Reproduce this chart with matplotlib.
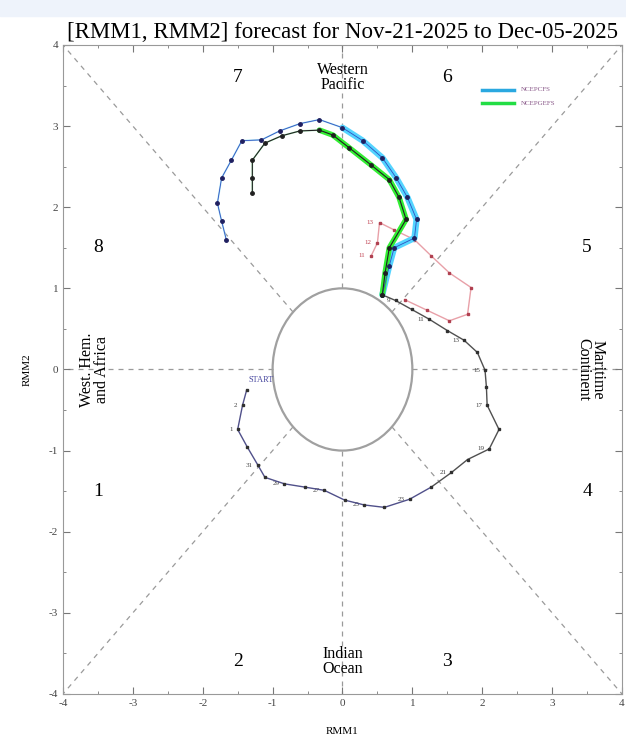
import numpy as np
import matplotlib.pyplot as plt
from matplotlib.patches import Circle, Rectangle

plt.rcParams['font.family'] = ['Liberation Serif', 'DejaVu Serif']
plt.rcParams['axes.unicode_minus'] = False

# observed RMM (last ~28 days)
obs_x = [-1.37, -1.43, -1.50, -1.36, -1.21, -1.11, -0.83, -0.54, -0.26, 0.03, 0.31, 0.60,
         0.96, 1.27, 1.56, 1.79, 2.10, 2.24, 2.07, 2.06, 2.04, 1.93, 1.74, 1.50, 1.24,
         0.99, 0.76, 0.57]
obs_y = [-0.25, -0.44, -0.74, -0.96, -1.18, -1.33, -1.41, -1.45, -1.49, -1.61, -1.67, -1.70,
         -1.60, -1.45, -1.27, -1.11, -0.98, -0.74, -0.44, -0.22, -0.01, 0.21, 0.36, 0.48, 0.62,
         0.74, 0.85, 0.92]
obs_lab = ['', '2', '1', '', '31', '', '29', '', '27', '', '25', '', '23', '', '21', '',
           '19', '', '17', '', '15', '', '13', '', '11', '', '9', '']

# earlier forecast track (pink)
old_x = [0.89, 1.21, 1.53, 1.79, 1.84, 1.53, 1.27, 1.03, 0.74, 0.53, 0.50, 0.41]
old_y = [0.86, 0.73, 0.60, 0.68, 1.01, 1.19, 1.40, 1.60, 1.72, 1.81, 1.56, 1.40]
old_lab = ['', '', '', '', '', '', '', '', '', '13', '12', '11']

# NCEP CFS forecast
cfs_x = [0.57, 0.67, 0.74, 1.03, 1.06, 0.93, 0.77, 0.57, 0.29, 0.00, -0.33, -0.61, -0.90,
         -1.16, -1.44, -1.59, -1.73, -1.79, -1.73, -1.66]
cfs_y = [0.92, 1.28, 1.50, 1.62, 1.85, 2.12, 2.36, 2.61, 2.82, 2.98, 3.08, 3.03, 2.94,
         2.83, 2.82, 2.58, 2.36, 2.05, 1.83, 1.59]

# NCEP GEFS forecast
gefs_x = [0.57, 0.61, 0.67, 0.91, 0.81, 0.67, 0.41, 0.10, -0.14, -0.33, -0.61, -0.87,
          -1.11, -1.29, -1.29, -1.29]
gefs_y = [0.92, 1.19, 1.50, 1.85, 2.12, 2.34, 2.52, 2.73, 2.89, 2.95, 2.94, 2.88,
          2.79, 2.58, 2.36, 2.18]

fig = plt.figure(figsize=(6.26, 7.43), dpi=100)
fig.patches.append(Rectangle((0, 0.978), 1, 0.022, transform=fig.transFigure,
                             color='#eef3fb', zorder=0))
ax = fig.add_axes([0.1006, 0.066, 0.893, 0.8735])

# phase lines, starting at the unit circle
for ang in [0, 45, 90, 135, 180, 225, 270, 315]:
    a = np.deg2rad(ang)
    r = 4 / max(abs(np.cos(a)), abs(np.sin(a)))
    ax.plot([np.cos(a), r * np.cos(a)], [np.sin(a), r * np.sin(a)],
            ls=(0, (4, 4)), color='#9a9a9a', lw=0.9, zorder=1)
ax.add_patch(Circle((0, 0), 1, fill=False, ec='#a0a0a0', lw=1.6, zorder=2))

# phase numbers and region names
for s, x, y in [('7', -1.5, 3.6), ('6', 1.5, 3.6), ('8', -3.5, 1.5), ('5', 3.5, 1.5),
                ('1', -3.5, -1.5), ('4', 3.5, -1.5), ('2', -1.5, -3.6), ('3', 1.5, -3.6)]:
    ax.text(x, y, s, fontsize=14, ha='center', va='center')
ax.text(0, 3.6, 'Western\nPacific', fontsize=11.5, ha='center', va='center', linespacing=0.9)
ax.text(0, -3.6, 'Indian\nOcean', fontsize=11.5, ha='center', va='center', linespacing=0.9)
ax.text(-3.55, 0, 'West. Hem.\nand Africa', fontsize=11.5, ha='center', va='center',
        rotation=90, linespacing=0.9)
ax.text(3.55, 0, 'Maritime\nContinent', fontsize=11.5, ha='center', va='center',
        rotation=-90, linespacing=0.9)

# earlier track
ax.plot(old_x, old_y, color='#e8a0a8', lw=1.0, zorder=3)
ax.plot(old_x, old_y, 's', color='#b04050', ms=2, zorder=4)
for x, y, s in zip(old_x, old_y, old_lab):
    if s:
        ax.text(x - 0.08, y, s, fontsize=5, color='#c04050', ha='right', va='center')

# observed
ax.plot(obs_x[:14], obs_y[:14], color='#50508a', lw=1.0, zorder=5)
ax.plot(obs_x[13:], obs_y[13:], color='#505050', lw=1.0, zorder=5)
ax.plot(obs_x, obs_y, 's', color='#303030', ms=2, zorder=6)
for x, y, s in zip(obs_x, obs_y, obs_lab):
    if s:
        ax.text(x - 0.07, y, s, fontsize=5, color='#404040', ha='right', va='center')
ax.text(obs_x[0] + 0.2, obs_y[0] + 0.1, 'START', fontsize=6, color='#4a4aa0', ha='center')

# forecasts: thick band near start, thin afterwards
ax.plot(cfs_x[:10], cfs_y[:10], color='#55d4ff', lw=4.5, solid_capstyle='round', zorder=7)
ax.plot(cfs_x[9:], cfs_y[9:], color='#a8e4f4', lw=1.2, zorder=7)
ax.plot(cfs_x, cfs_y, color='#3050c0', lw=0.6, zorder=8)
ax.plot(cfs_x, cfs_y, 'o', color='#202060', ms=2.5, zorder=9)
ax.plot(gefs_x[:10], gefs_y[:10], color='#33ee33', lw=4, solid_capstyle='round', zorder=7)
ax.plot(gefs_x[9:], gefs_y[9:], color='#b0f0c0', lw=1.2, zorder=7)
ax.plot(gefs_x, gefs_y, color='#202020', lw=0.8, zorder=8)
ax.plot(gefs_x, gefs_y, 'o', color='#202020', ms=2.5, zorder=9)

# legend
ax.plot([2.0, 2.45], [3.45, 3.45], color='#2aa8e0', lw=2.5)
ax.plot([2.0, 2.45], [3.28, 3.28], color='#22dd44', lw=2.5)
ax.text(2.55, 3.45, 'NCEPCFS', fontsize=5, color='#8a5a8a', va='center')
ax.text(2.55, 3.28, 'NCEPGEFS', fontsize=5, color='#8a5a8a', va='center')

ax.set_xlim(-4, 4)
ax.set_ylim(-4, 4)
ax.set_xticks(range(-4, 5))
ax.set_yticks(range(-4, 5))
ax.set_xticks(np.arange(-4, 4.01, 0.5), minor=True)
ax.set_yticks(np.arange(-4, 4.01, 0.5), minor=True)
ax.tick_params(which='both', direction='in', top=True, right=True, colors='#777777',
               labelcolor='#444444', labelsize=8)
ax.tick_params(which='major', length=5)
ax.tick_params(which='minor', length=2.5)
for sp in ax.spines.values():
    sp.set_color('#999999')
ax.set_xlabel('RMM1', fontsize=8, labelpad=14)
ax.set_ylabel('RMM2', fontsize=8, labelpad=12)
ax.set_title('[RMM1, RMM2] forecast for Nov-21-2025 to Dec-05-2025', fontsize=16.5, pad=5)

fig.savefig('out.png', dpi=100)
